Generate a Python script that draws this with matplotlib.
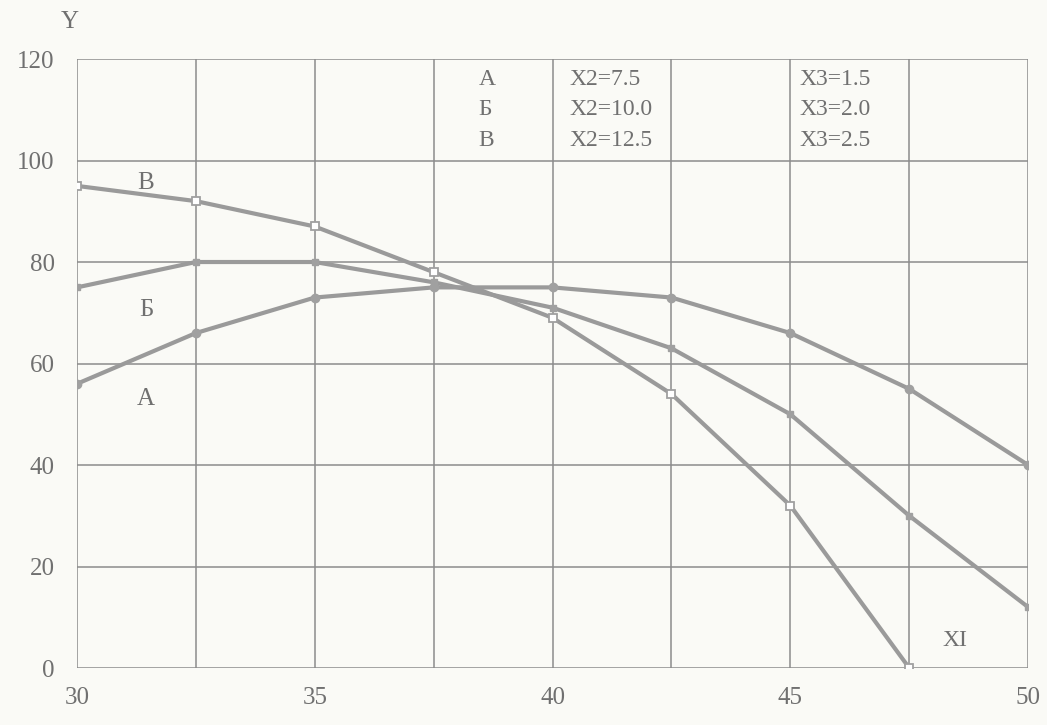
import matplotlib
matplotlib.use("Agg")
import matplotlib.pyplot as plt

x = [30, 32.5, 35, 37.5, 40, 42.5, 45, 47.5, 50]
y_a = [56, 66, 73, 75, 75, 73, 66, 55, 40]
y_b = [75, 80, 80, 76, 71, 63, 50, 30, 12]
x_v = [30, 32.5, 35, 37.5, 40, 42.5, 45, 47.5]
y_v = [95, 92, 87, 78, 69, 54, 32, 0]

legend_names = ["А", "Б", "В"]
legend_x2 = ["X2=7.5", "X2=10.0", "X2=12.5"]
legend_x3 = ["X3=1.5", "X3=2.0", "X3=2.5"]

xticks = [30, 35, 40, 45, 50]
yticks = [0, 20, 40, 60, 80, 100, 120]

bg = "#fafaf6"
line_c = "#9a9a9a"
grid_c = "#8c8c8c"
text_c = "#707070"
font = "Liberation Serif"

fig = plt.figure(figsize=(10.47, 7.25), dpi=100, facecolor=bg)
ax = fig.add_axes([0.0735, 0.0786, 0.9085, 0.84])
ax.set_facecolor(bg)

ax.set_xlim(30, 50)
ax.set_ylim(0, 120)
ax.set_xticks(xticks)
ax.set_xticks([32.5, 37.5, 42.5, 47.5], minor=True)
ax.set_yticks(yticks)
ax.set_xticklabels([str(v) for v in xticks], fontfamily=font, fontsize=18, color=text_c)
ax.set_yticklabels([str(v) for v in yticks], fontfamily=font, fontsize=18, color=text_c)
ax.tick_params(axis="x", which="both", length=0, pad=14)
ax.tick_params(axis="y", which="both", length=0, pad=16)
ax.grid(True, which="both", color=grid_c, linewidth=1.1)
ax.set_axisbelow(True)
for s in ax.spines.values():
    s.set_visible(False)

ax.plot(x, y_a, color=line_c, lw=3, marker="o", ms=6, mfc="#a0a0a0", mec="#a0a0a0", zorder=3)
ax.plot(x, y_b, color=line_c, lw=3, marker="s", ms=5, mfc="#a0a0a0", mec="#a0a0a0", zorder=3)
ax.plot(x_v, y_v, color=line_c, lw=3, marker="s", ms=6, mfc="white", mec="#a0a0a0", mew=1.3, zorder=3)

ax.text(31.45, 95.5, "В", fontfamily=font, fontsize=18, color=text_c, va="center", ha="center")
ax.text(31.45, 70.5, "Б", fontfamily=font, fontsize=18, color=text_c, va="center", ha="center")
ax.text(31.45, 53, "А", fontfamily=font, fontsize=18, color=text_c, va="center", ha="center")

for i in range(3):
    yy = 116 - 6 * i
    ax.text(38.45, yy, legend_names[i], fontfamily=font, fontsize=17, color=text_c, va="center")
    ax.text(40.35, yy, legend_x2[i], fontfamily=font, fontsize=17, color=text_c, va="center")
    ax.text(45.2, yy, legend_x3[i], fontfamily=font, fontsize=17, color=text_c, va="center")

ax.text(48.2, 5.5, "XI", fontfamily=font, fontsize=17, color=text_c, va="center")
fig.text(70 / 1047, 1 - 22 / 725, "Y", fontfamily=font, fontsize=18, color=text_c, va="center", ha="center")

fig.savefig("out.png", dpi=100, facecolor=bg)
